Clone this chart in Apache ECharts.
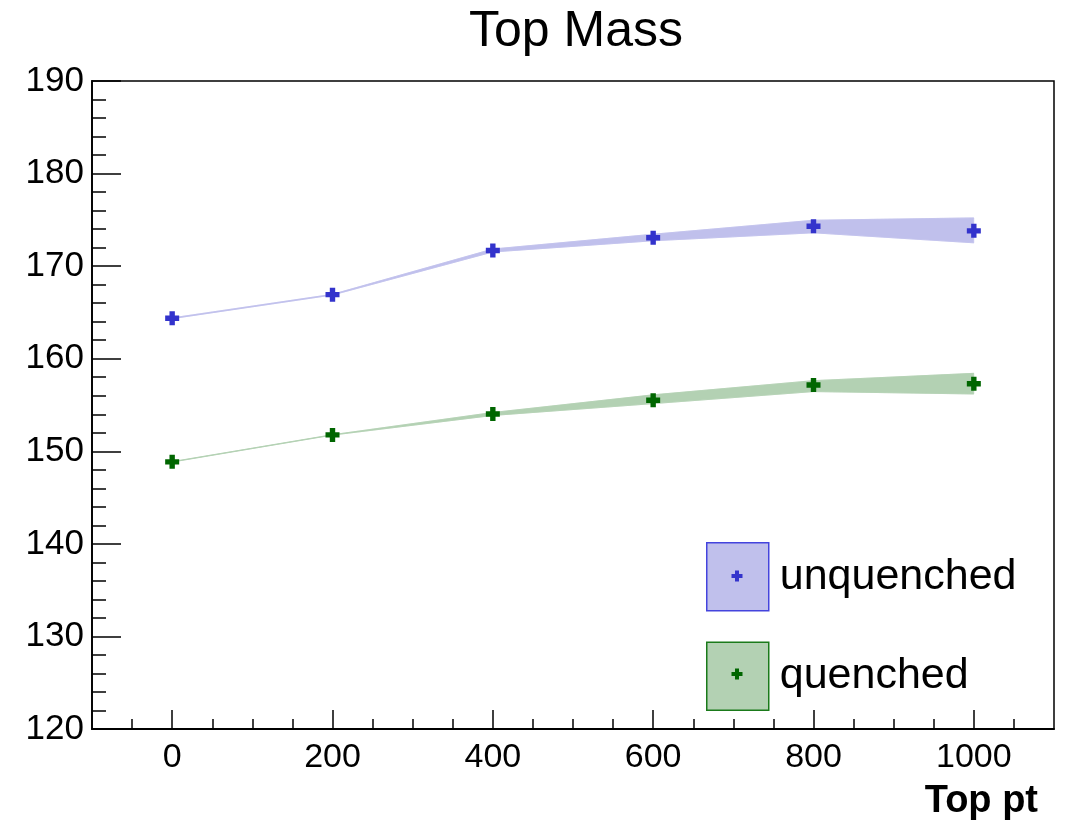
<!DOCTYPE html>
<html>
<head>
<meta charset="utf-8">
<script src="https://cdn.jsdelivr.net/npm/echarts@6/dist/echarts.min.js"></script>
<style>
html,body{margin:0;padding:0;background:#fff;}
#chart{width:1069px;height:821px;}
</style>
</head>
<body>
<div id="chart"></div>
<script>
// ---- data ----
var ptValues = [0, 200, 400, 600, 800, 1000];
var unqMean = [164.37, 166.92, 171.69, 173.06, 174.31, 173.81];
var unqLow  = [164.33, 166.88, 171.53, 172.74, 173.60, 172.52];
var unqHigh = [164.41, 166.96, 171.85, 173.45, 174.96, 175.21];
var qMean = [148.86, 151.77, 154.03, 155.51, 157.16, 157.30];
var qLow  = [148.84, 151.75, 153.87, 155.15, 156.45, 156.19];
var qHigh = [148.88, 151.79, 154.19, 156.10, 157.63, 158.42];
var xMajorTicks = [0, 200, 400, 600, 800, 1000];
var xMinorTicks = [-50, 50, 100, 150, 250, 300, 350, 450, 500, 550, 650, 700, 750, 850, 900, 950, 1050];
var seriesNames = ['unquenched', 'quenched'];

var FONT = "'Liberation Sans', Arial, Helvetica, sans-serif";
var blueMarker = '#3333cc', blueBand = '#c0c0ec', blueBorder = '#4444dd';
var greenMarker = '#006600', greenBand = '#b3d1b3', greenBorder = '#1a7a1a';
var crossPath = 'path://M4,0H9V4H13V9H9V13H4V9H0V4H4Z';

function pairs(xs, ys) { return xs.map(function (x, i) { return [x, ys[i]]; }); }
function triples(xs, lo, hi) { return xs.map(function (x, i) { return [x, lo[i], hi[i]]; }); }
function crossPoly(cx, cy, s, t) {
  var a = s / 2, b = t / 2;
  return [[cx - b, cy - a], [cx + b, cy - a], [cx + b, cy - b], [cx + a, cy - b], [cx + a, cy + b], [cx + b, cy + b],
          [cx + b, cy + a], [cx - b, cy + a], [cx - b, cy + b], [cx - a, cy + b], [cx - a, cy - b], [cx - b, cy - b]];
}

var chart = echarts.init(document.getElementById('chart'), null, {renderer: 'canvas'});

function bandSeries(name, low, high, color) {
  var data = triples(ptValues, low, high);
  return [
    {
      name: name + '_band', type: 'custom', data: data, silent: true, z: 1,
      encode: {x: 0, y: [1, 2]},
      renderItem: function (params, api) {
        var i = params.dataIndex;
        if (i >= data.length - 1) return null;
        var a = data[i], b = data[i + 1];
        var pts = [
          api.coord([a[0], a[2]]), api.coord([b[0], b[2]]),
          api.coord([b[0], b[1]]), api.coord([a[0], a[1]])
        ];
        return {type: 'polygon', shape: {points: pts}, style: {fill: color, stroke: color, lineWidth: 0.5}};
      }
    },
    {
      name: name + '_low', type: 'line', data: pairs(ptValues, low),
      symbol: 'none', lineStyle: {color: color, width: 0.8}, silent: true, z: 2
    },
    {
      name: name + '_high', type: 'line', data: pairs(ptValues, high),
      symbol: 'none', lineStyle: {color: color, width: 0.8}, silent: true, z: 2
    }
  ];
}

var option = {
  animation: false,
  backgroundColor: '#fff',
  title: {
    text: 'Top Mass', left: 571, top: 2, textAlign: 'center',
    textStyle: {fontFamily: FONT, fontSize: 50, fontWeight: 'normal', color: '#000'}
  },
  grid: {
    left: 92, right: 15, top: 81, bottom: 90,
    show: true, borderColor: '#000', borderWidth: 1.5, backgroundColor: 'transparent'
  },
  legend: {
    orient: 'vertical', left: 706, top: 542, padding: 0,
    itemWidth: 62, itemHeight: 68, itemGap: 30,
    textStyle: {fontFamily: FONT, fontSize: 43, color: '#000', padding: [0, 0, 0, 6]},
    selectedMode: false,
    data: [
      {name: seriesNames[0], icon: 'rect', itemStyle: {color: blueBand, borderColor: blueBorder, borderWidth: 1.5, opacity: 1}},
      {name: seriesNames[1], icon: 'rect', itemStyle: {color: greenBand, borderColor: greenBorder, borderWidth: 1.5, opacity: 1}}
    ]
  },
  graphic: [
    {type: 'polygon', shape: {points: crossPoly(737, 576, 11, 4)}, style: {fill: blueMarker}, z: 100},
    {type: 'polygon', shape: {points: crossPoly(737, 674, 11, 4)}, style: {fill: greenMarker}, z: 100}
  ],
  xAxis: [
    {
      type: 'value', min: -100, max: 1100, position: 'bottom',
      name: 'Top pt', nameLocation: 'end', nameGap: 0,
      nameTextStyle: {fontFamily: FONT, fontSize: 38, fontWeight: 'bold', color: '#000',
        align: 'right', verticalAlign: 'top', padding: [54, 16, 0, 0]},
      axisLine: {show: true, onZero: false, lineStyle: {color: '#000', width: 1.8}},
      axisTick: {show: true, inside: true, length: 19, customValues: xMajorTicks, lineStyle: {color: '#000', width: 1.5}},
      axisLabel: {show: true, customValues: xMajorTicks, margin: 12, fontFamily: FONT, fontSize: 34, color: '#000',
        formatter: function (v) { return String(v); }},
      splitLine: {show: false}
    },
    {
      type: 'value', min: -100, max: 1100, position: 'bottom',
      axisLine: {show: false, onZero: false},
      axisTick: {show: true, inside: true, length: 10, customValues: xMinorTicks, lineStyle: {color: '#000', width: 1.5}},
      axisLabel: {show: false},
      splitLine: {show: false}
    }
  ],
  yAxis: {
    type: 'value', min: 120, max: 190, interval: 10,
    axisLine: {show: true, onZero: false, lineStyle: {color: '#000', width: 1.8}},
    axisTick: {show: true, inside: true, length: 29, lineStyle: {color: '#000', width: 1.5}},
    minorTick: {show: true, splitNumber: 5, length: 14, lineStyle: {color: '#000', width: 1.5}},
    axisLabel: {margin: 8, fontFamily: FONT, fontSize: 35, color: '#000'},
    splitLine: {show: false}
  },
  series: []
    .concat(bandSeries('u', unqLow, unqHigh, blueBand))
    .concat(bandSeries('q', qLow, qHigh, greenBand))
    .concat([
      {
        name: seriesNames[0], type: 'scatter', data: pairs(ptValues, unqMean),
        symbol: crossPath, symbolSize: 14, itemStyle: {color: blueMarker, opacity: 1}, z: 10
      },
      {
        name: seriesNames[1], type: 'scatter', data: pairs(ptValues, qMean),
        symbol: crossPath, symbolSize: 14, itemStyle: {color: greenMarker, opacity: 1}, z: 10
      }
    ])
};
chart.setOption(option);
</script>
</body>
</html>
